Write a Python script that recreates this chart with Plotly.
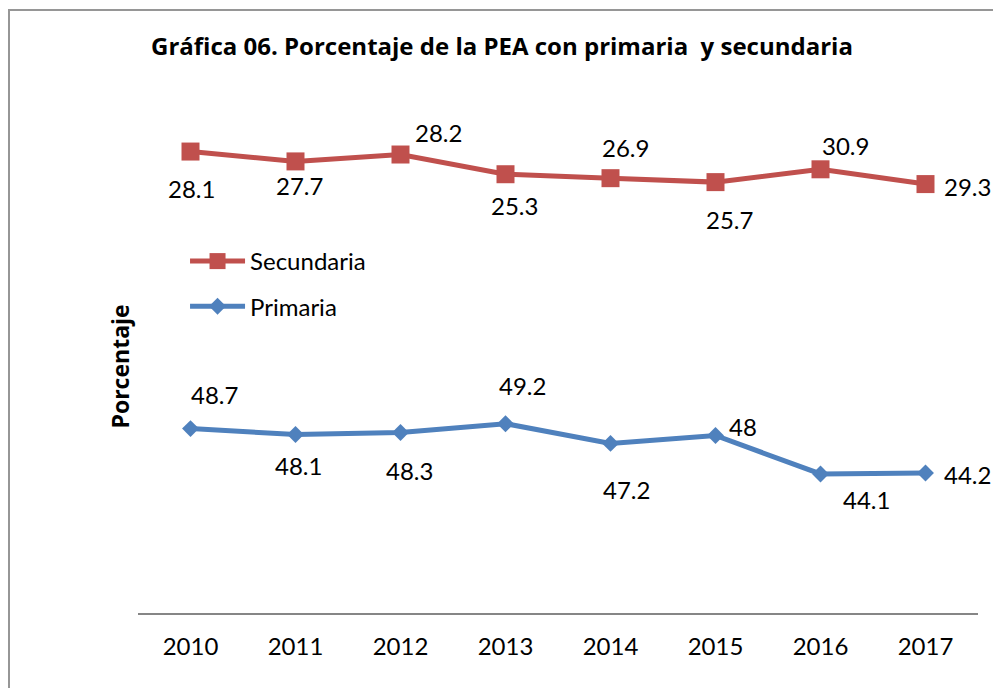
import plotly.graph_objects as go

years = [2010, 2011, 2012, 2013, 2014, 2015, 2016, 2017]
primaria = [48.7, 48.1, 48.3, 49.2, 47.2, 48.0, 44.1, 44.2]
secundaria = [28.1, 27.7, 28.2, 25.3, 26.9, 25.7, 30.9, 29.3]
prim_labels = ["48.7", "48.1", "48.3", "49.2", "47.2", "48", "44.1", "44.2"]
sec_labels = ["28.1", "27.7", "28.2", "25.3", "26.9", "25.7", "30.9", "29.3"]
year_labels = ["2010", "2011", "2012", "2013", "2014", "2015", "2016", "2017"]

# label offsets (pixels, dx right, dy down) - styling only
prim_off = [(24, -34), (3, 31), (9, 38), (17, -38), (16, 46), (27, -9), (46, 26), (42, 2)]
sec_off = [(1, 37), (4, 24), (38, -22), (9, 31), (15, -31), (14, 37), (25, -24), (42, 2)]

RED = "#C0504D"
BLUE = "#4F81BD"
FONT = "Lato"
BFONT = "Open Sans"

# stacked line chart: secundaria stacked on top of primaria
sec_stacked = [p + s for p, s in zip(primaria, secundaria)]

fig = go.Figure()
fig.add_trace(go.Scatter(
    x=years, y=sec_stacked, name="Secundaria", mode="lines+markers",
    line=dict(color=RED, width=5),
    marker=dict(symbol="square", size=18, color=RED),
    legendgroup="s", legendrank=1,
))
fig.add_trace(go.Scatter(
    x=years, y=primaria, name="Primaria", mode="lines+markers",
    line=dict(color=BLUE, width=5),
    marker=dict(symbol="diamond", size=13, color=BLUE),
    legendgroup="p", legendrank=2,
))

annotations = []
for i, yr in enumerate(years):
    dx, dy = prim_off[i]
    annotations.append(dict(x=yr, y=primaria[i], xref="x", yref="y", text=prim_labels[i],
                            showarrow=False, xshift=dx, yshift=-dy,
                            font=dict(family=FONT, size=24, color="#000000")))
    dx, dy = sec_off[i]
    annotations.append(dict(x=yr, y=sec_stacked[i], xref="x", yref="y", text=sec_labels[i],
                            showarrow=False, xshift=dx, yshift=-dy,
                            font=dict(family=FONT, size=24, color="#000000")))

annotations.append(dict(x=-0.0226, y=0.5, xref="paper", yref="paper", text="<b>Porcentaje</b>",
                        textangle=-90, showarrow=False, xanchor="center", yanchor="middle",
                        font=dict(family=BFONT, size=23, color="#000000")))

fig.update_layout(
    width=993, height=688,
    margin=dict(l=138, r=15, t=120, b=75),
    paper_bgcolor="white", plot_bgcolor="white",
    font=dict(family=FONT, size=24, color="#000000"),
    title=dict(text="<b>Gráfica 06. Porcentaje de la PEA con primaria  y secundaria</b>",
               x=0.5055, xanchor="center", y=1 - 47 / 688, yanchor="middle",
               font=dict(family=BFONT, size=24, color="#000000")),
    showlegend=True,
    legend=dict(x=0.056, y=(613 - 239) / 493, xanchor="left", yanchor="top",
                bgcolor="rgba(0,0,0,0)", borderwidth=0, tracegroupgap=11,
                traceorder="grouped", itemwidth=55,
                font=dict(family=FONT, size=24, color="#000000")),
    xaxis=dict(range=[2009.5, 2017.5], tickvals=years, ticktext=year_labels,
               showgrid=False, zeroline=False,
               showline=True, linecolor="#868686", linewidth=1.5, ticks="",
               ticklabelstandoff=11,
               tickfont=dict(family=FONT, size=24, color="#000000")),
    yaxis=dict(range=[30, 80], showgrid=False, zeroline=False, showline=False,
               showticklabels=False, ticks=""),
    annotations=annotations,
    shapes=[dict(type="rect", xref="paper", yref="paper",
                 x0=(9 - 138) / 840, x1=2, y0=-1, y1=(613 - 10) / 493,
                 line=dict(color="#969696", width=2), layer="below")],
)

fig.write_html("out.html", config={"displayModeBar": False},
               post_script="document.body.style.margin='0';")
